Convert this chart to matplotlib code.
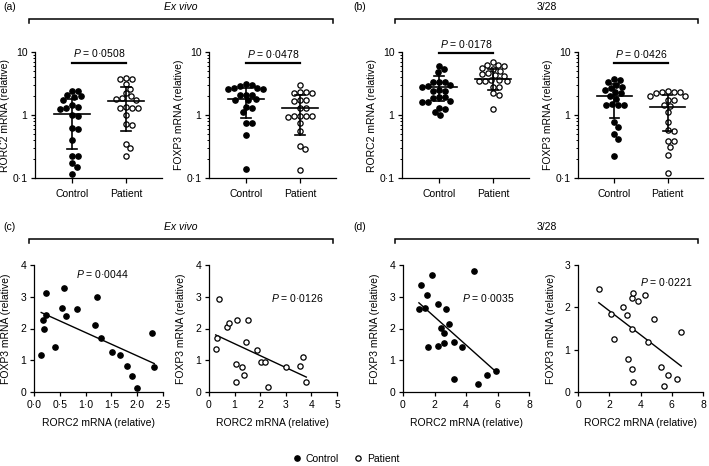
import numpy as np
import matplotlib
matplotlib.use("Agg")
import matplotlib.pyplot as plt
from matplotlib.lines import Line2D
from matplotlib.ticker import FixedLocator, LogLocator, NullFormatter

plt.rcParams['font.family'] = ['Liberation Sans', 'DejaVu Sans']
plt.rcParams['mathtext.fontset'] = 'custom'
plt.rcParams['mathtext.it'] = 'Liberation Sans:italic'
plt.rcParams['mathtext.rm'] = 'Liberation Sans'

# ---------------- data ----------------
groups = ["Control", "Patient"]

# (a) ex vivo
rorc_exvivo_control = [2.4, 2.4, 2.05, 2.0, 1.95, 1.75, 1.35, 1.3, 1.25, 1.0, 0.95,
                       0.62, 0.6, 0.4, 0.22, 0.22, 0.17, 0.15, 0.115, 1.45]
rorc_exvivo_patient = [3.7, 3.1, 3.7, 3.9, 2.6, 2.2, 1.85, 1.75, 2.0, 1.8, 1.3, 1.3,
                       1.32, 1.3, 1.0, 0.7, 0.72, 0.35, 0.3, 0.22]
foxp3_exvivo_control = [3.0, 3.1, 2.9, 2.65, 2.6, 2.7, 2.6, 2.1, 2.1, 2.05, 1.75, 1.7,
                        1.8, 1.35, 1.3, 1.1, 0.75, 0.75, 0.48, 0.137]
foxp3_exvivo_patient = [2.95, 2.3, 2.25, 2.2, 2.3, 1.7, 1.7, 1.65, 1.3, 1.3, 0.95, 0.97,
                        0.95, 0.93, 0.95, 0.75, 0.55, 0.32, 0.29, 0.135]
# (b) 3/28
rorc_328_control = [6.0, 5.3, 4.8, 3.3, 3.3, 3.4, 3.0, 2.8, 2.9, 2.4, 2.4, 2.5, 1.9,
                    1.95, 1.85, 1.6, 1.6, 1.65, 1.3, 1.25, 1.0, 1.1]
rorc_328_patient = [6.9, 6.2, 6.0, 6.2, 5.3, 5.0, 5.6, 4.3, 4.2, 4.4, 4.6, 3.5, 3.5,
                    3.5, 3.6, 3.6, 2.8, 2.8, 2.2, 2.1, 1.25]
foxp3_328_control = [3.4, 3.6, 3.7, 2.8, 2.7, 3.0, 2.2, 2.3, 2.0, 1.45, 1.45, 1.45,
                     1.5, 0.77, 0.65, 0.5, 0.42, 0.22, 2.5, 1.8]
foxp3_328_patient = [2.3, 2.3, 2.4, 2.35, 2.2, 2.0, 2.0, 1.7, 1.75, 1.4, 1.45, 1.1,
                     0.77, 0.55, 0.57, 0.38, 0.38, 0.31, 0.23, 0.12]

# mean / SD bars: (mean, lower, upper)
stats_rorc_exvivo = [(1.05, 0.29, 1.8), (1.68, 0.55, 2.8)]
stats_foxp3_exvivo = [(1.8, 0.91, 2.66), (1.28, 0.49, 2.08)]
stats_rorc_328 = [(2.8, 1.69, 4.2), (3.75, 2.5, 5.4)]
stats_foxp3_328 = [(1.98, 0.9, 3.05), (1.36, 0.56, 2.1)]

p_row1 = ["0·0508", "0·0478", "0·0178", "0·0426"]
p_bar_y = [6.77, 6.6, 9.5, 6.6]

# (c) correlations ex vivo
c_ctrl_rorc = [0.14, 0.19, 0.17, 0.24, 0.24, 0.40, 0.58, 0.54, 0.62, 0.83, 1.23, 1.19,
               1.29, 1.52, 1.67, 1.81, 1.90, 1.99, 2.28, 2.33]
c_ctrl_foxp3 = [1.15, 1.98, 2.28, 2.43, 3.13, 1.41, 3.28, 2.64, 2.38, 2.62, 2.98, 2.11,
                1.71, 1.26, 1.15, 0.83, 0.49, 0.14, 1.85, 0.78]
c_pat_rorc = [0.39, 0.31, 0.26, 0.71, 0.79, 1.11, 1.53, 1.44, 1.07, 1.27, 1.36, 1.05,
              1.88, 2.03, 2.18, 2.29, 3.01, 3.56, 3.66, 3.80]
c_pat_foxp3 = [2.93, 1.69, 1.35, 2.05, 2.17, 2.27, 2.27, 1.58, 0.88, 0.79, 0.54, 0.33,
               1.32, 0.96, 0.96, 0.16, 0.80, 0.83, 1.09, 0.30]
# (d) correlations 3/28
d_ctrl_rorc = [1.01, 1.12, 1.39, 1.54, 1.56, 1.85, 2.25, 2.25, 2.40, 2.61, 2.63, 2.74,
               2.92, 3.24, 3.24, 3.74, 4.48, 4.78, 5.31, 5.89]
d_ctrl_foxp3 = [2.61, 3.38, 2.66, 3.06, 1.43, 3.67, 1.44, 2.77, 2.03, 1.87, 1.53, 2.61,
                2.15, 1.59, 0.41, 1.42, 3.80, 0.24, 0.53, 0.67]
d_pat_rorc = [1.33, 2.10, 2.29, 2.85, 3.15, 3.43, 3.54, 3.86, 3.43, 3.22, 3.45, 3.50,
              4.31, 4.87, 4.51, 5.32, 5.51, 5.79, 6.33, 6.61]
d_pat_foxp3 = [2.44, 1.85, 1.26, 2.01, 1.83, 2.21, 2.34, 2.16, 1.50, 0.79, 0.55, 0.24,
               2.28, 1.73, 1.17, 0.58, 0.13, 0.39, 0.31, 1.42]

p_row2 = ["0·0044", "0·0126", "0·0035", "0·0221"]

# ---------------- figure ----------------
W, H = 709, 466
FS = 7.5
fig = plt.figure(figsize=(W / 100, H / 100), dpi=100)


def rect(l, t, w, h):
    return [l / W, 1 - (t + h) / H, w / W, h / H]


def dot(s):
    return s


MS = 3.8


def style_axes(ax):
    for s in ['top', 'right']:
        ax.spines[s].set_visible(False)
    for s in ['left', 'bottom']:
        ax.spines[s].set_linewidth(0.9)
    ax.tick_params(labelsize=FS, width=0.9, length=3, pad=2.5)


def swarm_x(ax, xc, vals, d=6.0):
    vals = np.asarray(vals, float)
    pts = ax.transData.transform(np.column_stack([np.full(len(vals), xc), vals]))
    x0 = pts[0, 0]
    ys = pts[:, 1]
    order = np.argsort(-ys)
    placed = []
    xs = np.zeros(len(vals))
    steps = np.arange(0, 60, 0.5)
    cands = [0.0]
    for s in steps[1:]:
        cands += [s, -s]
    for i in order:
        y = ys[i]
        for c in cands:
            ok = True
            for (px, py) in placed:
                if (px - (x0 + c)) ** 2 + (py - y) ** 2 < d * d:
                    ok = False
                    break
            if ok:
                placed.append((x0 + c, y))
                xs[i] = x0 + c
                break
    back = ax.transData.inverted().transform(np.column_stack([xs, ys]))
    return back[:, 0]


def dot_panel(ax, ctrl, pat, stats, ylabel, ptxt, pbar):
    style_axes(ax)
    ax.set_yscale('log')
    ax.set_ylim(0.1, 10)
    ax.set_xlim(-0.685, 1.667)
    ax.yaxis.set_major_locator(FixedLocator([0.1, 1, 10]))
    ax.set_yticklabels(['0·1', '1', '10'])
    ax.yaxis.set_minor_locator(LogLocator(base=10, subs=np.arange(2, 10)))
    ax.yaxis.set_minor_formatter(NullFormatter())
    ax.tick_params(axis='y', which='minor', length=1.6, width=0.7)
    ax.tick_params(axis='x', length=3.5, pad=4.5)
    ax.set_xticks([0, 1])
    ax.set_xticklabels(groups)
    xc = swarm_x(ax, 0, ctrl)
    xp = swarm_x(ax, 1, pat)
    ax.plot(xc, ctrl, 'o', ms=MS, color='black', mec='black', zorder=3, clip_on=False)
    ax.plot(xp, pat, 'o', ms=MS, mfc='white', mec='black', mew=0.9, zorder=3, clip_on=False)
    for x, (m, lo, hi) in zip([0, 1], stats):
        ax.plot([x - 0.33, x + 0.33], [m, m], color='black', lw=1.2, zorder=4)
        ax.plot([x, x], [lo, hi], color='black', lw=1.2, zorder=4)
        ax.plot([x - 0.09, x + 0.09], [lo, lo], color='black', lw=1.2, zorder=4)
        ax.plot([x - 0.09, x + 0.09], [hi, hi], color='black', lw=1.2, zorder=4)
    ax.plot([0, 1], [pbar, pbar], color='black', lw=1.6, clip_on=False)
    ax.annotate(r'$P$ = ' + ptxt, xy=(0.5, pbar), xytext=(0, 2.5), textcoords='offset points',
                ha='center', va='bottom', fontsize=FS, annotation_clip=False)
    ax.set_ylabel(ylabel, fontsize=FS)
    ax.yaxis.set_label_coords(-0.20, 0.5)


def corr_panel(ax, x, y, filled, xlim, xticks, xtl, ylim, yticks, ptxt, ppos):
    style_axes(ax)
    ax.set_xlim(*xlim)
    ax.set_ylim(*ylim)
    ax.set_xticks(xticks)
    ax.set_xticklabels(xtl)
    ax.set_yticks(yticks)
    ax.tick_params(axis='x', length=3, pad=2.5)
    if filled:
        ax.plot(x, y, 'o', ms=MS, color='black', zorder=3, clip_on=False)
    else:
        ax.plot(x, y, 'o', ms=MS, mfc='white', mec='black', mew=0.9, zorder=3, clip_on=False)
    k, b = np.polyfit(x, y, 1)
    xx = np.array([min(x), max(x)])
    ax.plot(xx, k * xx + b, color='black', lw=1.0, zorder=2)
    ax.text(ppos[0], ppos[1], r'$P$ = ' + ptxt, transform=ax.transAxes, ha='center', va='center',
            fontsize=FS)
    ax.set_ylabel('FOXP3 mRNA (relative)', fontsize=FS)
    ax.set_xlabel('RORC2 mRNA (relative)', fontsize=FS)
    ax.yaxis.set_label_coords(-0.18, 0.5)
    ax.xaxis.set_label_coords(0.5, -0.205)


# Row 1
ax1 = fig.add_axes(rect(35, 52, 127, 126))
dot_panel(ax1, rorc_exvivo_control, rorc_exvivo_patient, stats_rorc_exvivo,
          'RORC2 mRNA (relative)', p_row1[0], p_bar_y[0])
ax2 = fig.add_axes(rect(209, 52, 127, 126))
dot_panel(ax2, foxp3_exvivo_control, foxp3_exvivo_patient, stats_foxp3_exvivo,
          'FOXP3 mRNA (relative)', p_row1[1], p_bar_y[1])
ax3 = fig.add_axes(rect(402, 52, 127, 126))
dot_panel(ax3, rorc_328_control, rorc_328_patient, stats_rorc_328,
          'RORC2 mRNA (relative)', p_row1[2], p_bar_y[2])
ax4 = fig.add_axes(rect(578, 52, 125, 126))
dot_panel(ax4, foxp3_328_control, foxp3_328_patient, stats_foxp3_328,
          'FOXP3 mRNA (relative)', p_row1[3], p_bar_y[3])

# Row 2
ax5 = fig.add_axes(rect(34, 265, 129, 127))
corr_panel(ax5, c_ctrl_rorc, c_ctrl_foxp3, True, (0, 2.5), [0, 0.5, 1, 1.5, 2, 2.5],
           ['0·0', '0·5', '1·0', '1·5', '2·0', '2·5'], (0, 4), [0, 1, 2, 3, 4],
           p_row2[0], (0.53, 0.93))
ax6 = fig.add_axes(rect(209, 265, 128, 127))
corr_panel(ax6, c_pat_rorc, c_pat_foxp3, False, (0, 5), [0, 1, 2, 3, 4, 5],
           ['0', '1', '2', '3', '4', '5'], (0, 4), [0, 1, 2, 3, 4],
           p_row2[1], (0.69, 0.74))
ax7 = fig.add_axes(rect(403, 265, 126, 127))
corr_panel(ax7, d_ctrl_rorc, d_ctrl_foxp3, True, (0, 8), [0, 2, 4, 6, 8],
           ['0', '2', '4', '6', '8'], (0, 4), [0, 1, 2, 3, 4],
           p_row2[2], (0.68, 0.74))
ax8 = fig.add_axes(rect(578, 265, 125, 127))
corr_panel(ax8, d_pat_rorc, d_pat_foxp3, False, (0, 8), [0, 2, 4, 6, 8],
           ['0', '2', '4', '6', '8'], (0, 3), [0, 1, 2, 3],
           p_row2[3], (0.71, 0.87))


# headers / brackets
def fx(px):
    return px / W


def fy(py):
    return 1 - py / H


def bracket(x0, x1, y, label, lab_x, title, italic):
    fig.add_artist(Line2D([fx(x0), fx(x0), fx(x1), fx(x1)],
                          [fy(y + 4), fy(y), fy(y), fy(y + 4)],
                          color='black', lw=1.1, solid_joinstyle='miter'))
    fig.text(fx(lab_x), fy(y - 12), label, fontsize=FS, ha='left', va='center')
    fig.text(fx((x0 + x1) / 2), fy(y - 12), title, fontsize=FS, ha='center', va='center',
             fontstyle='italic' if italic else 'normal')


bracket(29, 333, 19, '(a)', 3, 'Ex vivo', True)
bracket(395, 698, 19, '(b)', 353, '3/28', False)
bracket(29, 333, 239, '(c)', 3, 'Ex vivo', True)
bracket(395, 698, 239, '(d)', 353, '3/28', False)

# legend
handles = [Line2D([], [], ls='none', marker='o', ms=MS, color='black'),
           Line2D([], [], ls='none', marker='o', ms=MS, mfc='white', mec='black', mew=0.9)]
fig.legend(handles, groups, loc='center', bbox_to_anchor=(fx(346), fy(459)), ncol=2,
           frameon=False, fontsize=FS, handlelength=0.8, handletextpad=0.4,
           columnspacing=1.5, borderpad=0)

fig.savefig('out.png', dpi=100)
